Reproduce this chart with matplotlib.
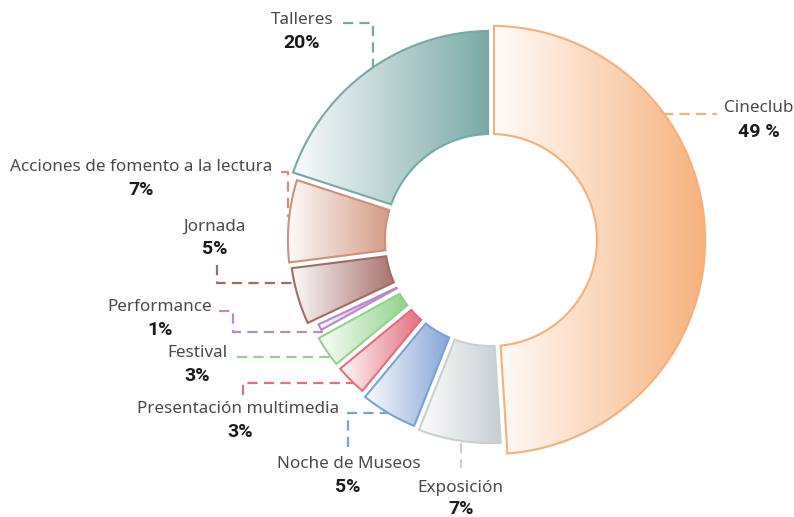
import numpy as np
import matplotlib
matplotlib.use("Agg")
import matplotlib.pyplot as plt
from matplotlib.patches import Polygon
from matplotlib.colors import to_rgb, LinearSegmentedColormap

# ---- data (clockwise from 12 o'clock) ----
categories = ["Cineclub", "Exposición", "Noche de Museos", "Presentación multimedia",
              "Festival", "Performance", "Jornada",
              "Acciones de fomento a la lectura", "Talleres"]
values = [49, 7, 5, 3, 3, 1, 5, 7, 20]
value_labels = ["49 %", "7%", "5%", "3%", "3%", "1%", "5%", "7%", "20%"]

# ---- styles ----
fill_colors = ["#F6B27D", "#C7CED1", "#86A5D6", "#E26F7E", "#92D189",
               "#BC8DCA", "#A6726D", "#D39A85", "#7AAAA7"]
edge_colors = ["#F5B07B", "#C9D0D2", "#7CA2D4", "#E0707F", "#97D190",
               "#B98AC6", "#A36B67", "#CE917C", "#78A9A5"]

W, H = 794, 517
CX, CY = 491, 240          # ring centre (pixel-like data units, y down)
R_IN = 106                 # inner radius
R_BASE, R_LOG = 192, 5.7   # outer radius grows with log(value)
GAP = 6                    # constant-width gap between sectors
NAME_FONT = "Noto Sans"
VALUE_FONT = "Roboto"

# label layout: (name xy, value xy, leader polyline)
name_xy = [(759, 108), (460, 488), (349, 464), (238, 409), (197, 353),
           (160, 307), (215, 227), (141, 167), (302, 20)]
value_xy = [(759, 132), (461, 509), (348, 487), (240, 432), (197, 376),
            (160, 330), (215, 249), (141, 190), (302, 43)]
leaders = [
    [(663, 114), (717, 114)],
    [(461, 443), (461, 468)],
    [(348, 447), (348, 413), (392, 413)],
    [(243, 395), (243, 383), (357, 383)],
    [(237, 357), (333, 357)],
    [(219, 311), (233, 311), (233, 332), (323, 332)],
    [(217, 265), (217, 283), (297, 283)],
    [(281, 172), (288, 172), (288, 217)],
    [(343, 23), (373, 23), (373, 68)],
]


def pt(a, r):
    t = np.radians(a)
    return (CX + r * np.sin(t), CY - r * np.cos(t))


def ring_sector(a0, a1, r_in, r_out, gap, n=90):
    h = gap / 2.0
    do = np.degrees(np.arcsin(min(h / r_out, 1.0)))
    outer = [pt(a, r_out) for a in np.linspace(a0 + do, a1 - do, n)]
    half = np.radians((a1 - a0) / 2.0)
    if r_in * np.sin(half) > h:
        di = np.degrees(np.arcsin(h / r_in))
        inner = [pt(a, r_in) for a in np.linspace(a1 - di, a0 + di, n)]
    else:
        inner = [pt((a0 + a1) / 2.0, h / np.sin(half))]
    return np.array(outer + inner)


fig = plt.figure(figsize=(W / 100, H / 100), dpi=100)
ax = fig.add_axes([0, 0, 1, 1])
ax.axis("off")

total = float(sum(values))
angles = np.concatenate([[0.0], np.cumsum(values) / total * 360.0])
grad = np.linspace(0, 1, 256).reshape(1, -1)

for i, v in enumerate(values):
    r_out = R_BASE + R_LOG * np.log(v)
    pts = ring_sector(angles[i], angles[i + 1], R_IN, r_out, GAP)
    col = np.array(to_rgb(fill_colors[i]))
    start = np.clip(1 - 0.04 * (1 - col), 0, 1)
    cmap = LinearSegmentedColormap.from_list(f"g{i}", [start, col])
    poly = Polygon(pts, closed=True, facecolor="none",
                   edgecolor=edge_colors[i], lw=1.5, zorder=3, joinstyle="miter")
    ax.add_patch(poly)
    xmin, xmax = pts[:, 0].min(), pts[:, 0].max()
    ymin, ymax = pts[:, 1].min(), pts[:, 1].max()
    im = ax.imshow(grad, cmap=cmap, extent=(xmin, xmax, ymax, ymin),
                   aspect="auto", interpolation="bilinear", zorder=2)
    im.set_clip_path(poly)

    lx, ly = zip(*leaders[i])
    ax.plot(lx, ly, color=edge_colors[i], lw=1.6, ls=(0, (4.6, 2.8)),
            zorder=1, dash_capstyle="butt")

    ax.text(*name_xy[i], categories[i], ha="center", va="center",
            fontsize=12.3, color="#4a4a4a", family=NAME_FONT)
    ax.text(*value_xy[i], value_labels[i], ha="center", va="center",
            fontsize=14, color="#1a1a1a", family=VALUE_FONT, fontweight="bold")

ax.set_xlim(0, W)
ax.set_ylim(H, 0)
fig.savefig("out.png", dpi=100, facecolor="white")
